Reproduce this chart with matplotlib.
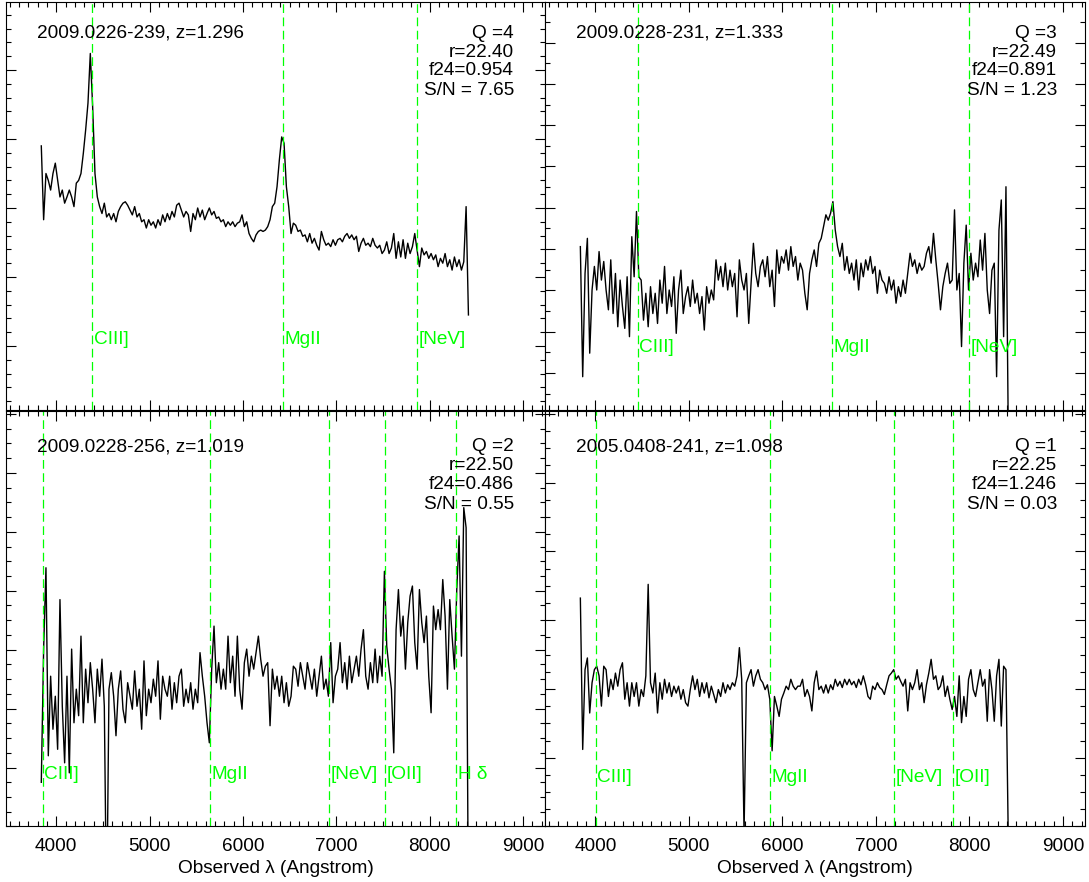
import numpy as np
import matplotlib
matplotlib.use('Agg')
import matplotlib.pyplot as plt
from matplotlib.ticker import MultipleLocator

plt.rcParams['font.family'] = ['Liberation Sans', 'DejaVu Sans']
plt.rcParams['font.size'] = 13.7

# wavelength grid of the spectra (Angstrom)
wave = 3840 + 25 * np.arange(184)

# fluxes, arbitrary units, one array per object
flux_q4 = [3.90, 2.83, 3.50, 3.40, 3.26, 3.50, 3.65, 3.40, 3.16, 3.26,
           3.07, 3.16, 3.26, 3.16, 3.02, 3.36, 3.40, 3.50, 3.79, 4.13,
           4.52, 5.24, 4.47, 3.50, 3.16, 3.02, 2.92, 3.07, 2.87, 2.92,
           2.83, 2.92, 2.80, 2.95, 3.02, 3.07, 3.09, 3.04, 2.97, 2.90,
           3.02, 2.87, 2.92, 2.80, 2.83, 2.71, 2.83, 2.75, 2.80, 2.71,
           2.83, 2.75, 2.90, 2.80, 2.92, 2.83, 2.95, 2.87, 3.04, 3.07,
           2.97, 2.87, 2.95, 2.90, 2.66, 2.92, 2.83, 3.00, 2.87, 2.97,
           2.83, 2.92, 3.00, 2.90, 2.95, 2.85, 2.87, 2.80, 2.83, 2.73,
           2.80, 2.75, 2.80, 2.73, 2.78, 2.80, 2.90, 2.73, 2.80, 2.63,
           2.56, 2.51, 2.61, 2.66, 2.68, 2.66, 2.68, 2.73, 2.83, 3.02,
           3.07, 3.31, 3.70, 4.03, 3.94, 3.31, 3.02, 2.63, 2.78, 2.75,
           2.66, 2.68, 2.59, 2.61, 2.51, 2.63, 2.49, 2.56, 2.46, 2.39,
           2.66, 2.54, 2.46, 2.49, 2.44, 2.54, 2.46, 2.54, 2.56, 2.51,
           2.59, 2.63, 2.56, 2.61, 2.54, 2.59, 2.37, 2.49, 2.56, 2.46,
           2.49, 2.44, 2.56, 2.46, 2.42, 2.46, 2.34, 2.39, 2.51, 2.34,
           2.42, 2.63, 2.27, 2.51, 2.29, 2.54, 2.27, 2.49, 2.34, 2.44,
           2.63, 2.39, 2.15, 2.42, 2.32, 2.37, 2.27, 2.34, 2.25, 2.32,
           2.15, 2.27, 2.20, 2.34, 2.15, 2.25, 2.10, 2.29, 2.15, 2.25,
           2.10, 2.22, 3.02, 1.45]

flux_q3 = [4.06, 0.91, 3.41, 4.26, 1.48, 3.01, 3.58, 3.01, 3.94, 3.25,
           3.70, 3.01, 2.53, 3.74, 2.44, 3.41, 2.12, 3.25, 2.61, 2.08,
           3.33, 1.88, 4.30, 3.33, 4.91, 3.33, 3.25, 2.28, 2.93, 2.12,
           3.09, 2.44, 2.93, 2.20, 3.25, 2.69, 3.58, 2.44, 3.01, 2.61,
           3.33, 1.96, 3.01, 3.49, 2.44, 2.85, 3.09, 2.61, 3.25, 2.69,
           2.93, 2.44, 2.85, 2.04, 3.09, 2.69, 3.01, 2.77, 3.74, 3.25,
           3.58, 3.09, 3.66, 3.01, 3.49, 3.09, 3.41, 2.36, 3.74, 3.25,
           3.01, 3.41, 2.20, 3.17, 4.14, 3.41, 3.09, 3.58, 3.74, 3.33,
           3.82, 3.09, 3.49, 2.61, 3.98, 3.41, 3.82, 3.66, 3.98, 3.49,
           4.06, 3.58, 3.82, 3.25, 3.66, 3.49, 2.93, 2.53, 3.41, 3.74,
           3.98, 3.58, 4.14, 4.26, 4.54, 4.83, 4.70, 4.87, 5.15, 4.46,
           4.06, 3.82, 4.14, 3.49, 3.82, 3.41, 3.66, 3.25, 3.74, 3.01,
           3.66, 3.33, 3.74, 3.49, 3.82, 3.41, 3.58, 2.93, 3.49, 3.25,
           3.17, 2.93, 3.33, 3.01, 3.25, 2.69, 3.09, 2.85, 3.25, 2.93,
           3.41, 3.90, 3.58, 3.74, 3.41, 3.66, 3.49, 3.58, 3.90, 4.06,
           3.66, 4.38, 3.74, 3.17, 2.53, 3.09, 3.41, 3.66, 3.17, 3.25,
           4.95, 3.01, 3.41, 1.64, 3.66, 4.58, 3.01, 3.90, 3.25, 3.66,
           3.33, 4.22, 3.49, 4.38, 3.01, 2.44, 3.49, 3.66, 0.91, 4.46,
           5.19, 1.88, 5.51, -0.50]

flux_q2 = [0.75, 3.01, 4.39, 1.20, 2.55, 1.65, 2.21, 1.31, 3.85, 2.04,
           1.08, 2.55, 0.91, 3.01, 1.76, 2.33, 1.88, 3.23, 1.76, 2.67,
           2.10, 2.78, 2.33, 1.76, 2.67, 2.21, 2.84, 2.04, -1.60, 2.33,
           2.61, 2.21, 1.54, 2.33, 2.64, 1.99, 1.76, 2.44, 2.21, 1.99,
           2.64, 2.04, 2.33, 1.65, 2.81, 1.88, 2.33, 2.10, 2.50, 2.21,
           2.81, 1.82, 2.55, 2.33, 2.21, 2.55, 1.99, 2.44, 2.10, 2.55,
           2.67, 2.04, 2.33, 2.10, 2.44, 1.99, 2.33, 2.10, 2.95, 2.55,
           2.21, 1.76, 1.42, 2.67, 3.40, 2.44, 2.78, 2.33, 2.67, 2.33,
           3.23, 2.44, 2.89, 2.21, 3.23, 2.33, 1.99, 2.78, 3.01, 2.55,
           2.89, 2.67, 2.95, 3.23, 2.84, 2.55, 2.72, 2.78, 1.71, 2.67,
           2.33, 2.55, 2.21, 2.55, 2.10, 2.44, 2.04, 2.21, 2.72, 2.67,
           2.38, 2.78, 2.55, 2.33, 2.78, 2.55, 2.33, 2.67, 2.21, 2.55,
           2.89, 2.33, 2.50, 2.21, 3.12, 2.10, 2.55, 2.67, 3.12, 2.44,
           2.78, 2.33, 2.89, 2.44, 2.67, 2.89, 2.55, 3.01, 3.34, 2.55,
           2.33, 2.78, 2.44, 3.01, 2.44, 2.89, 2.55, 4.33, 3.06, 2.67,
           2.33, 1.25, 3.34, 4.02, 3.23, 3.57, 2.67, 3.46, 3.91, 4.08,
           3.12, 2.67, 4.02, 3.46, 3.12, 3.57, 2.55, 1.93, 3.74, 3.34,
           3.68, 3.34, 4.19, 3.57, 2.33, 3.85, 3.23, 2.67, 4.02, 4.93,
           2.89, 5.41, 5.07, -1.60]

flux_q1 = [3.32, 1.12, 2.28, 2.45, 1.65, 2.09, 2.28, 2.33, 2.19, 1.75,
           2.33, 2.28, 1.89, 2.14, 1.99, 2.23, 2.04, 2.28, 2.38, 1.85,
           2.09, 1.75, 2.09, 1.89, 2.09, 1.75, 1.99, 1.89, 2.19, 3.52,
           2.09, 1.94, 2.23, 1.65, 2.09, 1.85, 2.14, 1.94, 2.09, 1.89,
           2.04, 1.94, 2.04, 1.85, 1.99, 1.80, 1.75, 1.99, 2.19, 1.99,
           2.14, 1.89, 2.09, 1.94, 2.09, 1.87, 2.04, 1.92, 1.80, 1.99,
           1.89, 2.09, 1.94, 2.06, 1.99, 2.09, 2.04, 2.19, 2.60, 2.14,
           -0.10, 2.09, 2.19, 2.28, 2.04, 2.19, 2.28, 2.14, 2.09, 1.99,
           2.06, 1.85, 1.10, 1.89, 1.75, 1.60, 1.85, 1.94, 2.04, 1.99,
           2.14, 2.04, 1.99, 2.04, 2.04, 2.14, 1.89, 1.99, 1.89, 1.68,
           2.09, 2.26, 1.99, 2.04, 1.94, 2.06, 1.94, 2.06, 1.99, 2.14,
           2.04, 2.11, 2.02, 2.14, 2.06, 2.14, 2.06, 2.11, 2.02, 2.14,
           2.06, 2.19, 2.06, 1.89, 1.85, 2.04, 1.99, 2.09, 2.02, 1.99,
           1.92, 2.06, 2.19, 2.23, 2.28, 2.14, 2.19, 2.11, 2.04, 2.14,
           1.68, 2.09, 1.99, 2.09, 2.28, 1.99, 2.09, 1.80, 2.06, 2.23,
           2.43, 2.14, 2.19, 1.99, 2.04, 2.19, 1.89, 2.04, 1.85, 1.70,
           1.89, 1.60, 2.19, 1.51, 1.89, 1.60, 2.14, 2.28, 1.99, 1.89,
           2.09, 2.28, 2.04, 2.14, 1.53, 2.28, 1.99, 1.53, 2.19, 2.43,
           1.46, 2.33, 2.28, -0.20]

names = ['2009.0226-239', '2009.0228-231', '2009.0228-256', '2005.0408-241']
redshifts = [1.296, 1.333, 1.019, 1.098]
quality = [4, 3, 2, 1]
rmag = ['22.40', '22.49', '22.50', '22.25']
f24 = ['0.954', '0.891', '0.486', '1.246']
snr = ['7.65', '1.23', '0.55', '0.03']
fluxes = [flux_q4, flux_q3, flux_q2, flux_q1]

# rest-frame lines marked in each panel
line_names = ['CIII]', 'MgII', '[NeV]', '[OII]', 'H δ']
line_rest = [1909.0, 2798.0, 3426.0, 3727.0, 4102.0]
lines_per_panel = [3, 3, 5, 4]

ylims = [(0.072, 5.986), (0.104, 9.983), (0.0, 7.05), (0.0, 6.04)]
yminor = [0.2, 0.5, 0.25, 0.25]
label_y = [0.172, 0.152, 0.124, 0.119]

fig = plt.figure(figsize=(10.89, 8.82), dpi=100)
boxes = [[0.00551, 0.53515, 0.49495, 0.46259],
         [0.50046, 0.53515, 0.49587, 0.46259],
         [0.00551, 0.06293, 0.49495, 0.47109],
         [0.50046, 0.06293, 0.49587, 0.47109]]

green = '#00ff00'

for k in range(4):
    ax = fig.add_axes(boxes[k])
    z = redshifts[k]
    ax.plot(wave, fluxes[k], color='black', lw=1.0)

    for j in range(lines_per_panel[k]):
        lam = line_rest[j] * (1 + z)
        ax.axvline(lam, color=green, lw=0.9, dashes=(7, 3.6))
        ax.annotate(line_names[j], xy=(lam, label_y[k]),
                    xycoords=('data', 'axes fraction'), xytext=(1.2, 0),
                    textcoords='offset points', ha='left', va='center',
                    color=green)

    ax.set_xlim(3462, 9235)
    ax.set_ylim(*ylims[k])
    ax.xaxis.set_major_locator(MultipleLocator(1000))
    ax.xaxis.set_minor_locator(MultipleLocator(100))
    ax.yaxis.set_major_locator(MultipleLocator(1.0))
    ax.yaxis.set_minor_locator(MultipleLocator(yminor[k]))
    ax.tick_params(which='both', direction='in', top=True, right=True,
                   labelleft=False, width=0.8)
    ax.tick_params(which='major', length=7, pad=8)
    ax.tick_params(which='minor', length=3.5)
    for sp in ax.spines.values():
        sp.set_linewidth(0.8)

    if k < 2:
        ax.tick_params(labelbottom=False)
        ty = [0.923, 0.877, 0.831, 0.784]
    else:
        ax.set_xlabel('Observed λ (Angstrom)', labelpad=4)
        ty = [0.914, 0.868, 0.822, 0.776]

    ax.text(0.0575, ty[0], '%s, z=%.3f' % (names[k], z),
            transform=ax.transAxes, ha='left', va='center')
    xr = 0.9425 if k % 2 == 0 else 0.948
    info = ['Q =%d' % quality[k], 'r=' + rmag[k], 'f24=' + f24[k],
            'S/N = ' + snr[k]]
    for t, yy in zip(info, ty):
        ax.text(xr, yy, t, transform=ax.transAxes, ha='right', va='center')

fig.savefig('out.png', dpi=100)
